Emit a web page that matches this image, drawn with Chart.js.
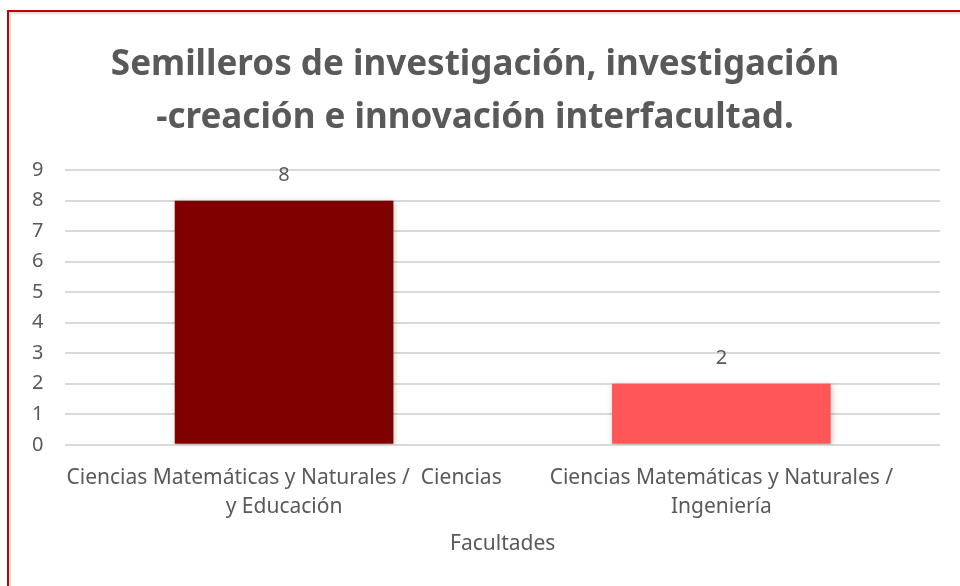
<!DOCTYPE html>
<html>
<head>
<meta charset="utf-8">
<script src="https://cdn.jsdelivr.net/npm/chart.js@4.4.1/dist/chart.umd.min.js"></script>
<style>
    body { margin: 0; background: #fff; overflow: hidden; }
    #frame {
        position: absolute; left: 7px; top: 10px; width: 980px; height: 600px;
        border: 2px solid #c00000; box-sizing: border-box;
        box-shadow: inset 2px 2px 0 #e0e0e0;
    }
    canvas { position: absolute; left: 0; top: 0; }
</style>
</head>
<body>
<div id="frame"></div>
<canvas id="chart" width="960" height="586"></canvas>
<script>
const categories = [
    ['Ciencias Matemáticas y Naturales /  Ciencias', 'y Educación'],
    ['Ciencias Matemáticas y Naturales /', 'Ingeniería']
];
const semilleros = [8, 2];
const barColors = ['#800000', '#ff5757'];
const titleLines = ['Semilleros de investigación, investigación', '-creación e innovación interfacultad.'];
const fontFamily = '"Noto Sans", "Open Sans", sans-serif';
const textColor = '#595959';

// etiquetas de valor encima de cada barra
const valueLabels = {
    id: 'valueLabels',
    afterDatasetsDraw(chart) {
        const ctx = chart.ctx;
        const meta = chart.getDatasetMeta(0);
        ctx.save();
        ctx.font = '20px ' + fontFamily;
        ctx.fillStyle = textColor;
        ctx.textAlign = 'center';
        ctx.textBaseline = 'middle';
        meta.data.forEach((bar, i) => {
            ctx.fillText(semilleros[i], bar.x, bar.y - 25);
        });
        ctx.restore();
    }
};

// sombra suave de las barras
const barShadow = {
    id: 'barShadow',
    beforeDatasetsDraw(chart) {
        chart.ctx.save();
        chart.ctx.shadowColor = 'rgba(0,0,0,0.25)';
        chart.ctx.shadowBlur = 6;
        chart.ctx.shadowOffsetX = 1;
        chart.ctx.shadowOffsetY = 1;
    },
    afterDatasetsDraw(chart) {
        chart.ctx.restore();
    }
};

const ctx = document.getElementById('chart').getContext('2d');
new Chart(ctx, {
    type: 'bar',
    data: {
        labels: categories,
        datasets: [{
            data: semilleros,
            backgroundColor: barColors,
            borderWidth: 0,
            barPercentage: 1,
            categoryPercentage: 0.5
        }]
    },
    options: {
        responsive: false,
        animation: false,
        layout: { padding: { left: 10, right: 20, top: 0, bottom: 29 } },
        plugins: {
            legend: { display: false },
            tooltip: { enabled: false },
            title: {
                display: true,
                text: titleLines,
                color: textColor,
                font: { family: fontFamily, size: 35, weight: 'bold', lineHeight: 1.53 },
                padding: { top: 38, bottom: 25 }
            }
        },
        scales: {
            x: {
                grid: { display: false },
                border: { display: false },
                ticks: {
                    color: textColor,
                    font: { family: fontFamily, size: 21, lineHeight: 1.38 },
                    maxRotation: 0,
                    autoSkip: false,
                    padding: 11
                },
                title: {
                    display: true,
                    text: 'Facultades',
                    color: textColor,
                    font: { family: fontFamily, size: 21, lineHeight: 1.2 },
                    padding: { top: -1, bottom: 0 }
                }
            },
            y: {
                min: 0,
                max: 9,
                grid: { color: '#d9d9d9', lineWidth: 2, drawTicks: false },
                border: { display: false },
                ticks: {
                    stepSize: 1,
                    color: textColor,
                    font: { family: fontFamily, size: 20 },
                    padding: 22
                }
            }
        }
    },
    plugins: [barShadow, valueLabels]
});
</script>
</body>
</html>
